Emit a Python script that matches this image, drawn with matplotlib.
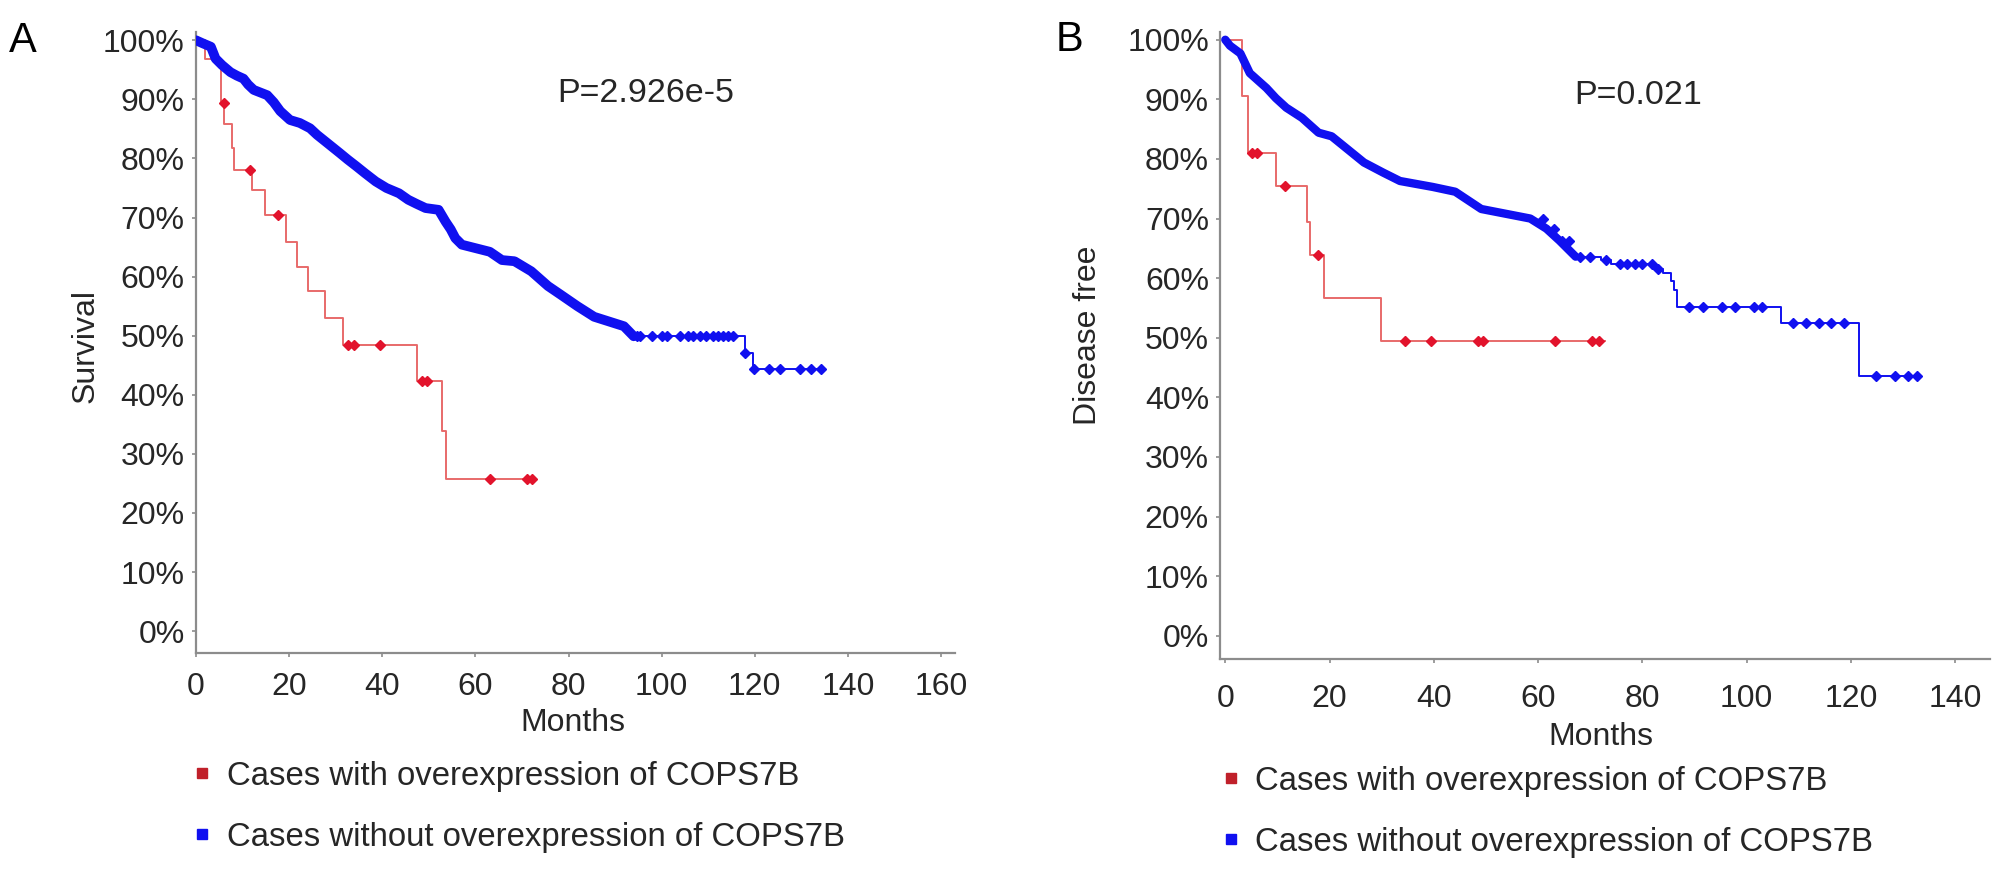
import matplotlib
matplotlib.use("Agg")
import numpy as np
import matplotlib.pyplot as plt
from matplotlib.lines import Line2D

plt.rcParams['font.family'] = ['Liberation Sans', 'DejaVu Sans']

# Panel A - overall survival (months, % surviving after each step)
a_red_t = [0, 2.0, 5.3, 6.1, 7.7, 8.1, 12.0, 14.9, 19.4, 21.8, 24.1, 27.8, 31.5, 47.5, 52.8, 53.7, 72.4]
a_red_s = [100, 96.9, 89.3, 85.9, 81.7, 78.0, 74.7, 70.4, 65.9, 61.7, 57.5, 53.0, 48.5, 42.4, 33.8, 25.7, 25.7]
a_red_cens = [6.0, 11.5, 17.7, 32.6, 34.0, 39.5, 48.5, 49.7, 63.1, 71.0, 72.1]

a_blue_t = [0, 1.4, 3.2, 4.2, 5.6, 7.4, 8.8, 10.2, 11.2, 12.4, 15.3, 16.7, 18.1, 20.2, 22.3,
            24.5, 26.0, 27.9, 30.9, 32.6, 34.4, 36.3, 38.6, 40.9, 43.6, 45.6, 47.4, 49.3, 52.1,
            53.6, 54.7, 55.7, 57.1, 63.1, 65.7, 68.4, 72.0, 75.6, 78.4, 81.9, 85.5, 91.9, 94.0,
            117.8, 119.6, 134.3]
a_blue_s = [100, 99.5, 98.9, 96.9, 95.8, 94.6, 94.0, 93.5, 92.5, 91.6, 90.7, 89.5, 88.0, 86.5, 86.0,
            85.1, 84.0, 82.8, 80.9, 79.8, 78.7, 77.5, 76.1, 75.0, 74.1, 73.0, 72.3, 71.6, 71.3,
            69.3, 68.0, 66.5, 65.4, 64.2, 62.8, 62.6, 60.9, 58.4, 56.9, 55.0, 53.2, 51.6, 49.9,
            47.1, 44.3, 44.3]
a_blue_cens = [94.7, 95.4, 97.9, 100.1, 101.1, 104.0, 105.7, 106.8, 108.3, 109.6, 111.0, 112.2,
               113.2, 114.3, 115.3, 118.0, 119.8, 123.1, 125.5, 129.7, 132.0, 134.3]
a_pvalue = "P=2.926e-5"

# Panel B - disease free
b_red_t = [0, 3.2, 4.4, 9.7, 15.7, 16.2, 19.0, 29.8, 72.8]
b_red_s = [100, 90.5, 81.0, 75.5, 69.4, 63.8, 56.6, 49.5, 49.5]
b_red_cens = [5.1, 6.0, 11.5, 17.8, 34.4, 39.4, 48.5, 49.4, 63.2, 70.4, 71.7]

b_blue_t = [0, 0.9, 2.9, 4.7, 7.9, 9.7, 11.7, 14.7, 17.9, 20.4, 23.5, 26.6, 30.3, 33.5, 39.8,
            44.1, 49.1, 58.5, 61.6, 64.1, 67.2, 72.0, 74.0, 82.0, 84.0, 85.5, 86.0, 86.7, 106.5,
            121.6, 132.7]
b_blue_s = [100, 99.0, 97.7, 94.4, 91.9, 90.2, 88.6, 86.9, 84.4, 83.8, 81.6, 79.4, 77.7, 76.3, 75.3,
            74.5, 71.6, 70.0, 68.3, 66.3, 63.6, 63.0, 62.3, 61.5, 60.8, 59.5, 58.0, 55.2, 52.5,
            43.5, 43.5]
b_blue_cens = [61, 63, 64.5, 66, 68, 70, 73, 75.7, 77, 78.5, 80, 81.8, 83, 89, 91.6, 95.3, 97.7,
               101.5, 103, 108.8, 111.3, 113.8, 116.2, 118.7, 124.8, 128.5, 131, 132.7]
b_pvalue = "P=0.021"

legend_labels = ["Cases with overexpression of COPS7B", "Cases without overexpression of COPS7B"]

RED_LINE = '#e86a6a'
RED_MARK = '#e2132c'
BLUE = '#1010f0'
AXIS_GRAY = '#8c8c8c'
TEXT = '#262626'
FS = 23


def level_at(t_list, s_list, t):
    i = np.searchsorted(t_list, t, side='right') - 1
    return s_list[max(i, 0)]


def draw_curve(ax, t, s, cens, line_color, mark_color, thick_until=None, thick_lw=7):
    t = np.asarray(t, dtype=float)
    s = np.asarray(s, dtype=float)
    if thick_until is None:
        ax.step(t, s, where='post', color=line_color, lw=1.4, zorder=3)
    else:
        # the dense run of tiny steps and censor ticks reads as one thick band
        k = int(np.searchsorted(t, thick_until, side='right'))
        ax.plot(t[:k], s[:k], color=line_color, lw=thick_lw, zorder=3,
                solid_capstyle='round', solid_joinstyle='round')
        ax.step(t[k - 1:], s[k - 1:], where='post', color=line_color, lw=1.4, zorder=3)
    cs = [level_at(t, s, c) for c in cens]
    ax.plot(cens, cs, ls='none', marker='D', ms=5.5, color=mark_color, mec=mark_color, zorder=4)


def style_axes(ax, xticks, xlim, ylim, ylabel, ylabel_xy, xlabel_xy, xpad):
    ax.set_xlim(*xlim)
    ax.set_ylim(*ylim)
    ax.set_xticks(xticks)
    ax.set_yticks(range(0, 101, 10))
    ax.set_yticklabels([f"{v}%" for v in range(0, 101, 10)])
    for side in ['top', 'right']:
        ax.spines[side].set_visible(False)
    for side in ['left', 'bottom']:
        ax.spines[side].set_color(AXIS_GRAY)
        ax.spines[side].set_linewidth(1.6)
    ax.tick_params(axis='both', direction='out', length=3, width=1.2, color=AXIS_GRAY,
                   labelsize=FS, labelcolor=TEXT)
    ax.tick_params(axis='y', pad=5)
    ax.tick_params(axis='x', pad=xpad)
    ax.set_ylabel(ylabel, fontsize=FS, color=TEXT)
    ax.set_xlabel("Months", fontsize=FS, color=TEXT)
    ax.yaxis.set_label_coords(*ylabel_xy)
    ax.xaxis.set_label_coords(*xlabel_xy)


fig = plt.figure(figsize=(20.08, 8.74), dpi=100)

axA = fig.add_axes([0.0976, 0.2529, 0.378, 0.7105])
draw_curve(axA, a_red_t, a_red_s, a_red_cens, RED_LINE, RED_MARK)
draw_curve(axA, a_blue_t, a_blue_s, a_blue_cens, BLUE, BLUE, thick_until=94.0, thick_lw=7)
style_axes(axA, range(0, 161, 20), (0, 163), (-3.7, 101.4), "Survival",
           (-0.126, 0.494), (0.497, -0.088), 11)
axA.text(96.6, 91.0, a_pvalue, fontsize=24.5, color=TEXT, ha='center', va='center')

axB = fig.add_axes([0.6076, 0.246, 0.3835, 0.7174])
draw_curve(axB, b_red_t, b_red_s, b_red_cens, RED_LINE, RED_MARK)
draw_curve(axB, b_blue_t, b_blue_s, b_blue_cens, BLUE, BLUE, thick_until=67.2, thick_lw=6)
style_axes(axB, range(0, 141, 20), (-1, 146.7), (-3.9, 101.3), "Disease free",
           (-0.152, 0.517), (0.494, -0.1), 15)
axB.text(79.2, 90.6, b_pvalue, fontsize=24.5, color=TEXT, ha='center', va='center')

fig.text(0.0115, 0.953, "A", fontsize=30, color='black', ha='center', va='center')
fig.text(0.5325, 0.954, "B", fontsize=30, color='black', ha='center', va='center')

handles = [Line2D([], [], ls='none', marker='s', ms=7, color='#c0202a'),
           Line2D([], [], ls='none', marker='s', ms=7, color=BLUE)]
for x0, y0 in [(0.0956, 1 - 761 / 874), (0.608, 1 - 766 / 874)]:
    fig.legend(handles, legend_labels, loc='upper left', bbox_to_anchor=(x0, y0),
               frameon=False, fontsize=23.7, handlelength=0.6, handletextpad=0.45,
               labelspacing=0.9, borderpad=0, borderaxespad=0, labelcolor=TEXT)

fig.savefig("out.png", dpi=100)
